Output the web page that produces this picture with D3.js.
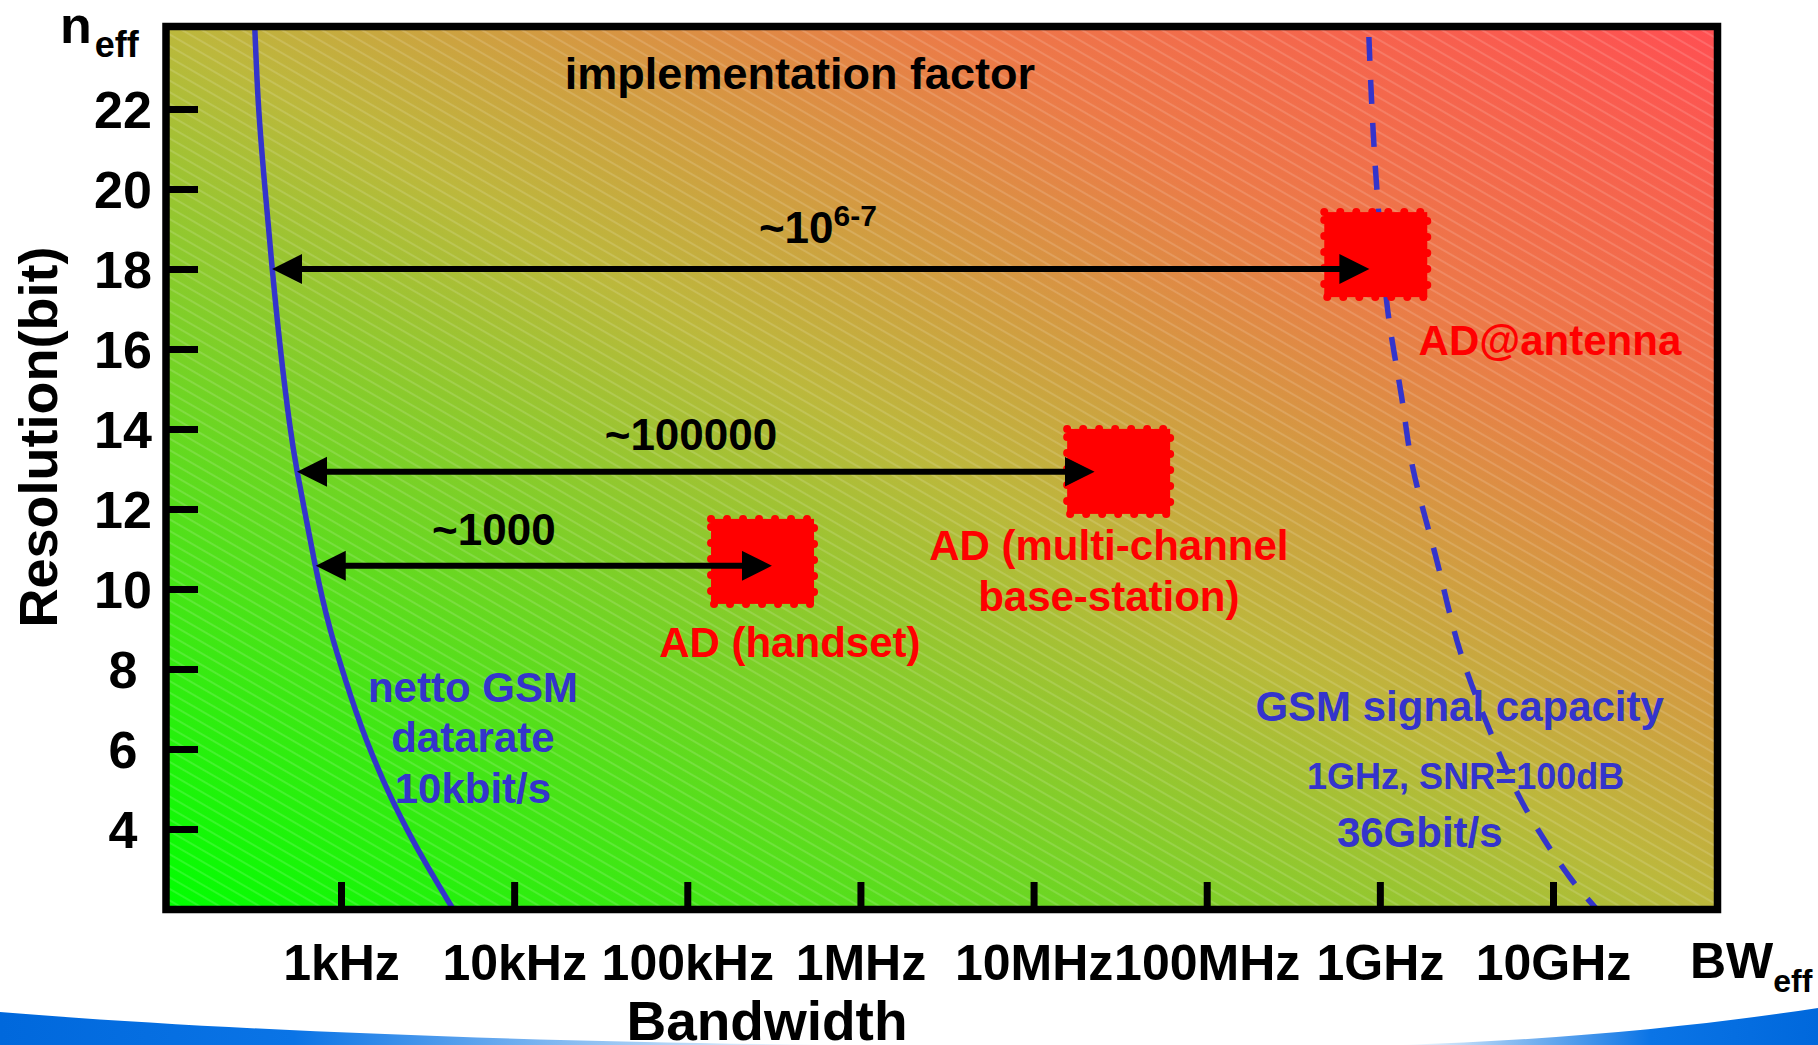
<!DOCTYPE html>
<html><head><meta charset="utf-8">
<script src="https://cdn.jsdelivr.net/npm/d3@7"></script>
<style>
html,body{margin:0;padding:0;background:#fff;}
svg{display:block;}
text{font-family:"Liberation Sans", Arial, sans-serif; font-weight:bold;}
</style></head><body>
<svg id="chart" width="1818" height="1045"></svg>
<script>
// ---------------- data ----------------
const xTickValues = [1e3, 1e4, 1e5, 1e6, 1e7, 1e8, 1e9, 1e10];
const xTickLabels = ["1kHz", "10kHz", "100kHz", "1MHz", "10MHz", "100MHz", "1GHz", "10GHz"];
const yTickValues = [4, 6, 8, 10, 12, 14, 16, 18, 20, 22];

// netto GSM datarate curve (bandwidth in Hz, resolution in bit)
const datarateBW   = [318, 332, 364, 400, 445, 508, 557, 620, 708, 776, 864, 987, 1135, 1322, 1572, 1906, 2373, 3015, 4434];
const datarateBits = [24, 22, 20, 18, 16, 13.98, 12.93, 11.9, 10.6, 9.8, 8.98, 8.15, 7.33, 6.5, 5.68, 4.85, 4.03, 3.2, 2.0];

// GSM signal capacity curve (dashed)
const capacityBW   = [8.61e8, 8.97e8, 9.59e8, 1.109e9, 1.336e9, 1.546e9, 2.127e9, 2.89e9, 4.14e9, 6.67e9, 1.247e10, 1.787e10];
const capacityBits = [24, 22.15, 20.05, 16.98, 14.8, 13.05, 10.73, 8.48, 6.65, 4.65, 2.8, 2.0];

// AD converter boxes (centre)
const adBW   = [2.72e5, 3.10e7, 9.47e8];
const adBits = [10.69, 12.94, 18.36];

// implementation-factor arrows
const arrowBits = [10.58, 12.93, 18.0];
const arrowFromBW = [715, 557, 400];
const arrowToBW   = [3.08e5, 2.25e7, 8.7e8];
const factorText = ["~1000", "~100000", "~10"];
const factorSup  = ["", "", "6-7"];
const factorBW   = [7.64e3, 1.05e5, 5.68e5];
const factorBits = [11.1, 13.475, 18.65];

// red labels
const adLabelLines = ["AD (handset)", "AD (multi-channel", "base-station)", "AD@antenna"];
const adLabelBW    = [3.91e5, 2.72e7, 2.72e7, 9.6e9];
const adLabelBits  = [8.3, 10.725, 9.45, 15.85];

// blue labels
const gsmLabelLines = ["netto GSM", "datarate", "10kbit/s", "GSM signal capacity", "1GHz, SNR=100dB", "36Gbit/s"];
const gsmLabelBW    = [5.78e3, 5.78e3, 5.78e3, 2.89e9, 3.13e9, 1.70e9];
const gsmLabelBits  = [7.175, 5.925, 4.65, 6.7, 5.0, 3.55];

const headerText = "implementation factor";
const headerBW = 4.47e5, headerBits = 22.5;

// ---------------- layout ----------------
const svg = d3.select("#chart");
const frame = {left: 166, top: 26.5, right: 1717.5, bottom: 909.5};
const x = d3.scaleLog().domain([1e3, 1e10]).range([341, 1553]);
const y = d3.scaleLinear().domain([2, 24]).range([909, 29]);
const BLUE = "#3434cc", RED = "#ff0000";

const defs = svg.append("defs");
const bg = defs.append("linearGradient").attr("id", "bg")
  .attr("x1", 0).attr("y1", 1).attr("x2", 1).attr("y2", 0);
[[0, "#00ff00"], [0.5, "#bcb83c"], [0.75, "#ec7a48"], [1, "#ff4f52"]]
  .forEach(([o, c]) => bg.append("stop").attr("offset", o).attr("stop-color", c));

const hatch = defs.append("pattern").attr("id", "hatch")
  .attr("patternUnits", "userSpaceOnUse").attr("width", 20).attr("height", 10)
  .attr("patternTransform", "rotate(30)");
hatch.append("line").attr("x1", 0).attr("x2", 20).attr("y1", 5).attr("y2", 5)
  .attr("stroke", "#fff").attr("stroke-opacity", 0.28).attr("stroke-width", 1);

const swL = defs.append("linearGradient").attr("id", "swL").attr("x1", 0).attr("x2", 1).attr("y1", 0).attr("y2", 0);
[[0, "#0068dc"], [0.35, "#0a74e6"], [0.7, "#8fc0f2"], [1, "#ffffff"]]
  .forEach(([o, c]) => swL.append("stop").attr("offset", o).attr("stop-color", c));
const swR = defs.append("linearGradient").attr("id", "swR").attr("x1", 1).attr("x2", 0).attr("y1", 0).attr("y2", 0);
[[0, "#0068dc"], [0.4, "#0a74e6"], [0.75, "#8fc0f2"], [1, "#ffffff"]]
  .forEach(([o, c]) => swR.append("stop").attr("offset", o).attr("stop-color", c));

defs.append("clipPath").attr("id", "plotClip").append("rect")
  .attr("x", frame.left).attr("y", frame.top)
  .attr("width", frame.right - frame.left).attr("height", frame.bottom - frame.top);

const mk = defs.append("marker").attr("id", "head")
  .attr("markerUnits", "userSpaceOnUse").attr("markerWidth", 32).attr("markerHeight", 32)
  .attr("refX", 12).attr("refY", 15).attr("orient", "auto-start-reverse")
  .attr("viewBox", "0 0 32 32");
mk.append("path").attr("d", "M0,0 L30,15 L0,30 Z").attr("fill", "#000");

// swooshes (slide decoration)
svg.append("path").attr("d", "M0,1012 C220,1030 520,1042 840,1045 L0,1045 Z").attr("fill", "url(#swL)");
svg.append("path").attr("d", "M1818,1008 C1700,1026 1560,1040 1400,1045 L1818,1045 Z").attr("fill", "url(#swR)");

// background
svg.append("rect").attr("x", frame.left).attr("y", frame.top)
  .attr("width", frame.right - frame.left).attr("height", frame.bottom - frame.top)
  .attr("fill", "url(#bg)");
svg.append("rect").attr("x", frame.left).attr("y", frame.top)
  .attr("width", frame.right - frame.left).attr("height", frame.bottom - frame.top)
  .attr("fill", "url(#hatch)");

const plot = svg.append("g").attr("clip-path", "url(#plotClip)");
const smooth = d3.line().x(d => x(d[0])).y(d => y(d[1])).curve(d3.curveBasis);
const line = d3.line().x(d => x(d[0])).y(d => y(d[1])).curve(d3.curveCatmullRom.alpha(0.5));

plot.append("path").datum(d3.zip(datarateBW, datarateBits))
  .attr("d", smooth).attr("fill", "none").attr("stroke", BLUE).attr("stroke-width", 5.5);
plot.append("path").datum(d3.zip(capacityBW, capacityBits))
  .attr("d", line).attr("fill", "none").attr("stroke", BLUE).attr("stroke-width", 5.5)
  .attr("stroke-dasharray", "24 19").attr("stroke-dashoffset", 35);

// AD boxes
const boxW = 103, boxH = 85;
plot.selectAll("rect.ad").data(d3.zip(adBW, adBits)).join("rect").attr("class", "ad")
  .attr("x", d => x(d[0]) - boxW / 2).attr("y", d => y(d[1]) - boxH / 2)
  .attr("width", boxW).attr("height", boxH)
  .attr("fill", RED).attr("stroke", RED).attr("stroke-width", 8)
  .attr("stroke-dasharray", "0 16").attr("stroke-linecap", "round");

// arrows
const headLen = 18;
plot.selectAll("line.arrow").data(d3.range(arrowBits.length)).join("line").attr("class", "arrow")
  .attr("x1", i => x(arrowFromBW[i]) + headLen).attr("x2", i => x(arrowToBW[i]) - headLen)
  .attr("y1", i => y(arrowBits[i])).attr("y2", i => y(arrowBits[i]))
  .attr("stroke", "#000").attr("stroke-width", 6)
  .attr("marker-start", "url(#head)").attr("marker-end", "url(#head)");

// factor labels
const fl = svg.selectAll("text.factor").data(d3.range(factorText.length)).join("text").attr("class", "factor")
  .attr("x", i => x(factorBW[i])).attr("y", i => y(factorBits[i]))
  .attr("text-anchor", "middle").attr("font-size", 44).attr("fill", "#000");
fl.append("tspan").text(i => factorText[i]);
fl.append("tspan").attr("font-size", 30).attr("dy", -17).text(i => factorSup[i]);

svg.append("text").attr("x", x(headerBW)).attr("y", y(headerBits))
  .attr("text-anchor", "middle").attr("font-size", 45).attr("fill", "#000").text(headerText);

svg.selectAll("text.adl").data(d3.range(adLabelLines.length)).join("text").attr("class", "adl")
  .attr("x", i => x(adLabelBW[i])).attr("y", i => y(adLabelBits[i]))
  .attr("text-anchor", "middle").attr("font-size", 42).attr("fill", RED)
  .text(i => adLabelLines[i]);

svg.selectAll("text.gsm").data(d3.range(gsmLabelLines.length)).join("text").attr("class", "gsm")
  .attr("x", i => x(gsmLabelBW[i])).attr("y", i => y(gsmLabelBits[i]))
  .attr("text-anchor", "middle").attr("font-size", i => gsmLabelLines[i].includes("SNR") ? 36 : 42)
  .attr("fill", BLUE).text(i => gsmLabelLines[i]);

// frame
svg.append("rect").attr("x", frame.left).attr("y", frame.top)
  .attr("width", frame.right - frame.left).attr("height", frame.bottom - frame.top)
  .attr("fill", "none").attr("stroke", "#000").attr("stroke-width", 7.5);

// axes
const xAxis = svg.append("g").attr("transform", `translate(0,${frame.bottom})`)
  .call(d3.axisBottom(x).tickValues(xTickValues).tickFormat((d, i) => xTickLabels[i]).tickSize(-27.5));
xAxis.select(".domain").remove();
xAxis.selectAll("line").attr("stroke", "#000").attr("stroke-width", 7);
xAxis.selectAll("text").attr("y", 70.5).attr("dy", 0)
  .attr("font-size", 50).attr("fill", "#000")
  .attr("font-family", "'Liberation Sans', Arial, sans-serif").attr("font-weight", "bold");

const yAxis = svg.append("g").attr("transform", `translate(${frame.left},0)`)
  .call(d3.axisLeft(y).tickValues(yTickValues).tickSize(-32));
yAxis.select(".domain").remove();
yAxis.selectAll("line").attr("stroke", "#000").attr("stroke-width", 7);
yAxis.selectAll("text").attr("x", -43).attr("dy", "0.355em").attr("text-anchor", "middle")
  .attr("font-size", 52).attr("fill", "#000")
  .attr("font-family", "'Liberation Sans', Arial, sans-serif").attr("font-weight", "bold");

// axis titles
const nEff = svg.append("text").attr("x", 60).attr("y", 43).attr("font-size", 52).attr("fill", "#000");
nEff.append("tspan").text("n");
nEff.append("tspan").attr("font-size", 36).attr("dy", 14).attr("dx", 3).text("eff");

const bwEff = svg.append("text").attr("x", 1690).attr("y", 978).attr("font-size", 50).attr("fill", "#000");
bwEff.append("tspan").text("BW");
bwEff.append("tspan").attr("font-size", 32).attr("dy", 14).text("eff");

svg.append("text").attr("transform", "translate(57,437) rotate(-90)")
  .attr("text-anchor", "middle").attr("font-size", 54).attr("fill", "#000").text("Resolution(bit)");
svg.append("text").attr("x", 767).attr("y", 1040)
  .attr("text-anchor", "middle").attr("font-size", 55).attr("fill", "#000").text("Bandwidth");
</script>
</body></html>
